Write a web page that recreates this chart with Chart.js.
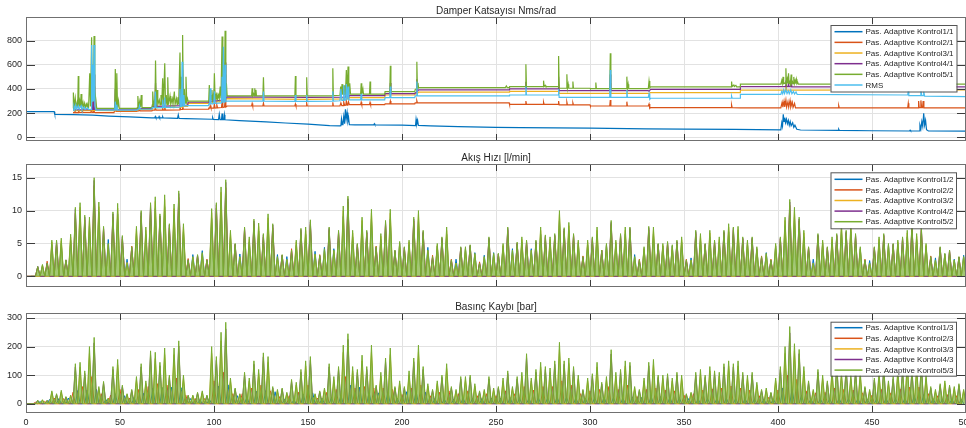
<!DOCTYPE html>
<html>
<head>
<meta charset="utf-8">
<script src="https://cdn.jsdelivr.net/npm/chart.js@4.4.1/dist/chart.umd.min.js"></script>
<style>
  html, body { margin: 0; padding: 0; background: #fff; overflow: hidden; }
  canvas { position: absolute; left: 0; }
</style>
</head>
<body>
<canvas id="damperChart" width="966" height="142" style="top:0px"></canvas>
<canvas id="flowChart" width="966" height="142" style="top:146px"></canvas>
<canvas id="pressChart" width="966" height="138" style="top:290px"></canvas>
<script>
// ---- axis ticks ----
const xTicks = [0, 50, 100, 150, 200, 250, 300, 350, 400, 450, 500];
const damperTicks = [0, 200, 400, 600, 800];
const flowTicks = [0, 5, 10, 15];
const pressTicks = [0, 100, 200, 300];

// ---- series names ----
const damperNames = ['Pas. Adaptive Kontrol1/1', 'Pas. Adaptive Kontrol2/1', 'Pas. Adaptive Kontrol3/1',
  'Pas. Adaptive Kontrol4/1', 'Pas. Adaptive Kontrol5/1', 'RMS'];
const flowNames = ['Pas. Adaptive Kontrol1/2', 'Pas. Adaptive Kontrol2/2', 'Pas. Adaptive Kontrol3/2',
  'Pas. Adaptive Kontrol4/2', 'Pas. Adaptive Kontrol5/2'];
const pressNames = ['Pas. Adaptive Kontrol1/3', 'Pas. Adaptive Kontrol2/3', 'Pas. Adaptive Kontrol3/3',
  'Pas. Adaptive Kontrol4/3', 'Pas. Adaptive Kontrol5/3'];

// ---- Damper Katsayisi: [x, y] points ----
const damper1 = [[0,212],[15,212],[15.3,190],[25,188],[35.5,183],[44,175],[55,168],[67,161],
  [68.5,161],[68.8,172],[69.1,161],[70.5,160],[70.8,171],[71.1,160],[72.4,160],[72.7,170],[73,160],
  [80.6,157],[81,186],[81.4,157],[85,155],[99,149],[99.3,162],[99.6,148],
  [102.4,146],[102.8,190],[103.2,146],[104,146],[104.3,196],[104.6,146],[105.2,146],[105.5,186],[105.8,145],
  [113.5,138],[127.7,127],[138,118],[150,108],[161.5,97],[167,95],
  [167.5,96],[167.8,150],[168.2,104],[168.6,122],[169,172],[169.4,112],[169.9,232],[170.3,150],[170.8,205],[171.2,132],[171.6,160],[172,104],
  [175,102],[185,103],[185.3,112],[185.6,103],[200,100],[207.2,97],[207.5,150],[207.9,112],[208.3,140],[208.7,98],
  [215,95],[230,88],[250,82],[263,80],[300,75],[330,70],[350,67],[377,65],[401.5,62],
  [402,120],[402.4,92],[402.8,190],[403.2,132],[403.6,162],[404,120],[404.5,150],[405,112],[405.5,140],[406,100],[406.5,130],[407,96],[407.8,120],[408.4,82],[409,100],[410,66],[412,60],
  [432,57],[432.3,66],[432.6,57],[450,54],[470,52],[470.3,58],[470.6,52],[475,52],[475.5,100],[476,70],[476.5,130],[477,90],[477.5,199],[478,100],[478.5,140],[479,62],[480,52],[500,50]];

const damper2 = [[25,204],[25.7,204],[26,215],[26.4,204],[27.7,204],[28,220],[28.4,205],[29.7,205],[30,212],[30.4,205],[34.5,205],[34.8,240],[35.2,206],[35.7,206],[36,238],[36.4,207],[37,204],
  [46.8,204],[47,214],[47.2,214],[47.5,230],[47.9,214],[59,214],[59.2,218],[60.1,218],[60.4,226],[60.8,218],[67,218],[67.2,224],[68.5,224],[68.8,245],[69.2,224],[72.4,224],[72.7,240],[73.1,224],[73.5,224],[73.8,248],[74.2,224],[81.6,226],[81.9,255],[82.3,230],[83,230],[83.3,258],[83.7,232],[86,232],
  [97,232],[97.2,242],[97.7,242],[98,262],[98.4,242],[99.9,242],[100.2,275],[100.6,242],[101.2,243],[101.5,268],[101.9,243],[104,246],[104.3,300],[104.7,246],[105.6,250],[105.9,309],[106.3,250],[107,259],
  [120,259],[120.3,280],[120.6,259],[126,259],[126.3,282],[126.6,259],[143,259],[143.3,276],[143.6,259],[149,259],[149.3,282],[149.6,259],[162.9,259],[163.2,290],[163.5,259],
  [167,260],[167.5,285],[168,262],[168.7,262],[169,292],[169.5,264],[170.1,266],[170.4,300],[170.8,266],[171.2,268],[171.5,295],[172,270],[178,270],[178.3,290],[178.6,270],[182.7,270],[183,288],[183.3,270],[190.8,270],[191,276],[193.5,276],[193.8,300],[194.1,276],[206.8,276],[207,285],[207.6,285],[207.9,302],[208.2,285],
  [257,285],[257.2,272],[265.6,272],[265.9,300],[266.2,272],[275,272],[275.3,290],[275.6,272],[283,272],[283.3,300],[283.6,268],[287.4,268],[287.7,290],[288,268],[290.6,268],[290.9,285],[291.2,268],[300,268],[300.2,259],[310.5,259],[310.8,309],[311.1,259],[319.3,259],[319.6,295],[319.9,259],[331,259],[331.4,275],[331.8,240],[332.2,246],
  [375,246],[375.3,268],[375.6,246],[380,243],[401.5,243],[402.2,290],[402.6,250],[403.2,300],[403.6,252],[404.2,309],[404.6,250],[405.3,295],[405.7,250],[406.4,305],[406.8,250],[407.6,290],[408,248],[408.8,280],[409.3,243],
  [432,243],[432.3,262],[432.6,243],[469,243],[469.3,282],[469.6,243],[474.5,243],[474.8,300],[475.1,245],[475.7,245],[476,305],[476.4,245],[476.9,245],[477.2,300],[477.6,243],[500,243]];

const damper3 = [[25,220],[34.6,220],[34.9,400],[35.3,222],[35.9,222],[36.2,420],[36.6,222],[47,220],[59,220],[59.2,230],[67,230],[67.2,246],[68.6,246],[68.9,380],[69.3,246],[83,250],[83.3,450],[83.7,255],[86,255],[86.2,280],
  [97,280],[97.2,290],[104,295],[104.3,500],[104.7,300],[105.6,305],[105.9,520],[106.3,310],[107,320],[150,314],[171,318],[171.3,380],[171.7,318],[172,328],[190.8,328],[191,350],[193.5,350],[193.8,400],[194.1,350],[206.8,350],[207,360],[207.6,362],[207.9,420],[208.2,365],[208.8,373],
  [257,373],[257.2,380],[283,380],[283.3,440],[283.6,364],[310.5,364],[310.8,450],[311.1,364],[331,364],[331.4,360],[332.2,370],[379.8,370],[380,390],[403.9,390],[404.2,430],[404.5,390],[500,392]];

const damper4 = [[25,228],[34.6,228],[34.9,500],[35.3,230],[35.9,230],[36.2,520],[36.6,230],[47.2,228],[47.5,400],[47.9,228],[59,228],[59.2,238],[67,238],[67.2,256],[68.6,256],[68.9,450],[69.3,256],[81.6,262],[81.9,500],[82.3,262],[83,264],[83.3,560],[83.7,265],[86,265],[86.2,290],
  [97,290],[97.2,300],[99.9,300],[100.2,400],[100.6,300],[104,308],[104.3,600],[104.7,310],[105.6,318],[105.9,620],[106.3,320],[107,334],[150,330],[170.1,332],[170.4,420],[170.8,334],[171,334],[171.3,440],[171.7,336],[172,345],[190.8,345],[191,362],[193.5,362],[193.8,450],[194.1,362],[206.8,362],[207,368],[207.6,370],[207.9,480],[208.2,380],[208.8,392],
  [257,392],[257.2,400],[265.6,400],[265.9,460],[266.2,400],[283,400],[283.3,500],[283.6,386],[310.5,386],[310.8,520],[311.1,386],[331,386],[331.4,380],[332.2,397],[379.8,397],[380,420],[403.9,420],[404.2,470],[404.5,420],[405.3,420],[405.6,450],[405.9,420],[406.7,420],[407,460],[407.3,418],[500,418]];

const damper5 = [[25,240],[25.2,370],[25.6,250],[26.2,323],[26.6,248],[27.2,290],[27.5,250],[27.8,508],[28.1,250],[28.6,300],[29,252],[29.3,359],[29.7,250],[30.3,290],[30.7,248],[31.2,282],[31.6,250],[32.2,275],[32.6,248],[32.9,268],[33.3,250],[33.9,530],[34.3,255],[34.9,828],[35.3,300],[35.6,600],[35.9,300],[36.2,839],[36.6,380],[37.2,309],[37.6,240],
  [47.2,240],[47.5,566],[47.9,250],[48.3,530],[48.7,245],[49.2,300],[49.6,240],
  [59,240],[59.2,245],[59.5,342],[59.9,250],[60.5,300],[60.9,250],[61.3,350],[61.7,245],
  [67,245],[67.2,268],[67.4,378],[67.8,268],[68.3,300],[68.6,268],[68.9,635],[69.3,270],[69.7,392],[70.1,268],[70.9,309],[71.3,268],[71.8,350],[72.2,270],[72.7,489],[73.1,270],[73.8,613],[74.2,272],[74.6,350],[75,270],[75.4,497],[75.8,270],[76.6,342],[77,272],[77.8,320],[78.2,272],[78.9,378],[79.3,272],[80,320],[80.4,272],[80.8,331],[81.2,274],[81.9,701],[82.3,276],[82.7,500],[83,280],[83.3,847],[83.7,280],[84.2,400],[84.6,282],[85.1,502],[85.5,295],[85.9,320],[86.2,300],
  [97,300],[97.2,308],[97.5,433],[97.9,310],[98.3,350],[98.6,312],[98.9,392],[99.3,310],[99.6,340],[99.9,312],[100.2,530],[100.6,315],[100.9,360],[101.2,316],[101.5,370],[101.9,318],[102.4,350],[102.8,320],[103.3,420],[103.7,322],[104.3,834],[104.7,330],[105.1,500],[105.5,335],[105.9,883],[106.3,340],[106.6,450],[107,342],
  [120,342],[120.3,405],[120.6,342],[121.1,360],[121.4,342],[121.7,405],[122,342],[122.3,392],[122.6,342],[126,342],[126.3,497],[126.6,342],[143,342],[143.3,508],[143.6,342],[149,342],[149.3,497],[149.6,342],[162.9,342],[163.2,571],[163.5,344],
  [167,348],[167.4,420],[167.8,350],[168.1,440],[168.5,352],[168.8,400],[169.2,352],[169.5,430],[169.9,354],[170.4,557],[170.8,355],[171.3,585],[171.7,355],[172.2,447],[172.6,358],
  [178,358],[178.3,447],[178.6,358],[179.2,400],[179.5,358],[182.7,358],[183,461],[183.3,358],[190.8,358],[191,378],[193.5,378],[193.8,593],[194.1,378],[206.8,378],[207,395],[207.6,400],[207.9,626],[208.2,405],[208.5,450],[208.8,411],
  [255,411],[255.5,425],[256,411],[257,411],[257.2,420],[265.6,420],[265.9,604],[266.2,420],[275,420],[275.3,469],[275.6,420],[276.2,430],[276.5,420],[283,420],[283.3,673],[283.6,406],[287.4,406],[287.7,522],[288,406],[288.4,440],[288.7,406],[290.6,406],[290.9,461],[291.2,406],
  [300,406],[300.2,402],[302.8,402],[303.1,453],[303.4,402],[310.5,402],[310.8,695],[311.1,402],[319.3,402],[319.6,502],[319.9,402],[320.3,440],[320.6,402],[331,402],[331.4,466],[331.8,410],[332.2,418],
  [375,418],[375.3,461],[375.6,420],[376.5,433],[376.8,420],[377.6,430],[378,418],[379.8,418],[380,440],
  [401.5,440],[402,470],[402.3,445],[402.7,500],[403,445],[403.5,450],[403.8,445],[404.2,571],[404.5,445],[404.9,480],[405.2,445],[405.6,530],[405.9,445],[406.3,470],[406.6,445],[407,520],[407.3,445],[407.7,460],[408,445],[408.4,500],[408.7,445],[409.1,470],[409.4,445],[409.8,480],[410.1,445],[410.5,455],[410.8,440],
  [432,440],[432.3,460],[432.6,440],[469,440],[469.3,480],[469.6,440],[475,440],[475.5,500],[476,440],[477.5,490],[478,440],[500,440]];

const damperRms = [[25,225],[25.5,255],[25.9,230],[26.5,268],[26.9,232],[27.8,260],[28.2,232],[29.3,262],[29.7,232],[31,250],[31.4,230],[32.8,245],[33.2,230],[34.6,230],[34.9,765],[35.3,300],[35.6,600],[35.9,300],[36.2,765],[36.6,260],[37.2,225],
  [47.2,225],[47.5,295],[47.9,226],[48.3,270],[48.7,225],[59,225],[59.2,232],[60,232],[60.4,262],[60.8,232],[67,232],[67.2,245],[68.5,245],[68.8,378],[69.2,245],[72.4,245],[72.7,310],[73.1,248],[73.5,248],[73.8,330],[74.2,248],[81.6,250],[81.9,400],[82.3,255],[82.7,255],[83,626],[83.4,258],[83.7,258],[84,350],[84.4,260],[86,262],
  [97,262],[97.2,275],[97.7,275],[98,405],[98.4,276],[99.9,278],[100.2,380],[100.6,280],[104,284],[104.3,500],[104.7,285],[105,750],[105.4,290],[105.6,292],[105.9,600],[106.3,295],[107,300],
  [126,300],[126.3,378],[126.6,300],[143,298],[143.3,350],[143.6,298],[149,297],[149.3,350],[149.6,297],[162.9,300],[163.2,380],[163.5,300],
  [167,302],[167.5,400],[168,305],[168.7,305],[169,430],[169.4,308],[170.1,308],[170.4,440],[170.8,310],[171,310],[171.3,420],[171.7,310],[178,310],[178.3,360],[178.6,310],[190.8,310],[191,328],[193.5,328],[193.8,420],[194.1,328],[206.8,328],[207,342],[207.6,342],[207.9,461],[208.2,342],
  [257,342],[257.2,350],[265.6,350],[265.9,420],[266.2,350],[283,350],[283.3,400],[283.6,331],[310.5,331],[310.8,557],[311.1,331],[319.3,331],[319.6,392],[319.9,331],[331,331],[331.4,360],[331.8,315],[332.2,323],
  [375,323],[375.3,340],[375.6,323],[379.8,323],[380,355],[401.5,355],[402,380],[402.5,360],[403,390],[403.5,362],[404.2,395],[404.8,362],[405.5,385],[406,360],[406.8,392],[407.4,360],[408.2,380],[408.8,358],[409.6,375],[410.2,355],
  [469,350],[469.3,386],[469.6,345],[475.7,345],[476,386],[476.5,345],[477.2,345],[477.5,380],[478,340],[500,337]];

// ---- Akis Hizi: spike peaks (Kontrol5 every 2.5 s, the others every 5 s) ----
const flowK5 = [
  0,0,1.5,1.8,2,5.5,5.5,5.8,2.5,6.4,
  10.5,11.2,9.3,9,15,11.3,7.6,5,9.8,11.1,
  6.2,2,4.5,7.6,10,7.5,11.2,12.1,9.5,12.4,
  8,11,13,8,2.5,3,3.3,3.6,2.5,10.3,
  11.2,13.6,14.7,7,5,3,7.5,6,8.7,8.1,
  6.5,9.5,8,3,3.3,2.6,4,5.5,7.3,7.5,
  8.6,3.4,3.2,4.2,7.5,4,7,10.7,12.2,7,
  5,9,7,10.2,4.5,6.5,8.5,10.2,4,5.3,
  4.5,5.5,9,10,7,4,3,5,6,7.5,
  2.5,2,4.5,4.5,4.8,3.5,2,3,6,3.5,
  3.5,5,7.5,4,5.2,6,5.5,4,5.5,7.5,
  6.3,6,6.5,10,7.4,8.2,6.5,5.5,3,5.5,
  6,7.5,4,5,8.5,5.5,6.5,7.5,7.5,3,
  2.5,4.5,7.6,7.5,5,5,5.3,4.8,5.5,6,
  2.5,2.5,7,6.5,5,7,5.5,6,7,8,
  7.5,7.6,6,5.5,6,4.5,3,3.5,2.5,5,
  6,9,11.7,10.5,9,7,4.5,2,6.5,5.5,
  4.5,6,6.5,8,7,8,6.5,4.5,2.5,2,
  4.5,6,6.5,5,5,5.5,6,7,8,6.5,
  7.5,5,3,2.5,4.5,3.5,4,2.5,3,3];

const flowK1 = [
  0,1.6,4.8,5,5.5, 9.6,7.7,9.8,5.6,9.5, 2.6,6.5,6.4,10.3,10.6, 9.4,6.8,3.3,3.9,8.8,
  11.6,6,3.4,5.2,6.9, 8.1,3.3,3,4.7,6.4, 3.8,4.4,4.2,9.1,6, 7.7,8.7,5.6,8.7,5,
  4.8,8.5,4.4,4.6,6.4, 2.6,4.2,3.6,3.2,3.6, 4.6,4.2,5.2,4.2,6.4, 5.2,8.5,7,5,4.8,
  6.4,4.8,5,6.4,3.3, 4.2,6.4,4.6,4.6,5.2, 2.8,5.6,6,5.2,6.8, 6.5,5,4.2,3.6,4.6,
  7.7,9,6,2.6,5, 5.2,6.8,6.8,4.2,2.4, 5.2,4.8,5,6,5.6, 4.6,2.8,3.4,2.6,3.2];

const flowK2 = [
  0,1.4,2.3,5,2.4, 9.6,8.6,13.8,7.2,9, 5.7,4.6,9.2,10.3,8.9, 7.4,12,2.7,3.1,2.6,
  10.4,13.5,4.8,7.1,8, 6,7.4,3.2,4.2,6.8, 7.9,3.3,7,6.6,11.3, 4.8,6.6,4.6,7.9,3.8,
  4.3,8.4,6.6,3.2,5.6, 2.6,4.3,4.6,2.2,5.6, 3.4,7,5,5.2,5.1, 5.9,6.1,6.9,6.2,3.1,
  5.6,4,7.9,6.1,7, 2.6,7.1,4.8,5,5.2, 2.6,6.5,4.8,5.2,6.6, 7,5.7,5.6,3.1,2.6,
  5.7,10.8,8.4,4.4,6.1, 4.3,6.1,6.6,6.1,2.6, 4.3,6.1,4.8,5.7,7.5, 7,3.1,4.3,3.8,2.9];

const flowK3 = [
  0,1.7,5.2,5.4,6, 10.5,8.5,10.6,4.8,10.4, 2.1,7.2,7,11.4,11.7, 10.3,7.5,2.9,3.4,9.7,
  12.8,6.6,2.9,5.6,7.6, 8.9,2.9,2.5,5.2,7, 3.3,4,3.8,10,6.6, 8.5,9.6,6.1,9.6,5,
  5.2,9.4,3.8,4.7,7, 2,4.2,3.3,2.9,3.3, 4.7,3.8,5.6,3.8,7, 5.6,9.4,7.7,5.2,5.2,
  7,4.7,5.2,7,2.9, 4.2,7,4.7,4.5,5.6, 2.4,6.1,6.6,5.6,7.5, 7.1,5.2,4.2,3.3,4.7,
  8.5,9.9,6.6,2,5.2, 5.6,7.5,7.5,4.2,2, 5.6,4.7,5.2,6.6,6.1, 4.7,2.4,3.3,2.4,2.9];

const flowK4 = [
  0,1.5,2,5.3,2.5, 10.2,9,14.6,7.4,9.5, 6,4.4,9.7,10.9,9.2, 7.8,12.6,2.5,3.2,2.5,
  10.9,14.3,4.9,7.3,8.4, 6.3,7.8,3.2,3.9,7.1, 8.3,3.1,7.3,6.8,11.8, 4.9,6.8,4.4,8.2,3.9,
  4.4,8.7,6.8,2.9,5.8, 2.4,4.4,4.7,2,5.8, 3.4,7.3,5,5.3,5.3, 6.1,6.3,7.2,6.3,2.9,
  5.8,3.9,8.2,6.3,7.3, 2.4,7.4,4.9,5.1,5.3, 2.4,6.8,4.9,5.3,6.8, 7.3,5.8,5.8,2.9,2.4,
  5.8,11.3,8.7,4.4,6.3, 4.4,6.3,6.8,6.3,2.4, 4.4,6.3,4.9,5.8,7.8, 7.3,2.9,4.4,3.9,2.9];

// ---- Basinc Kaybi: spike peaks ----
const pressK5 = [
  0,0,12,14,12,45,35,47,25,30,
  140,145,115,200,232,60,78,20,130,155,
  65,35,50,95,140,80,185,180,145,195,
  100,195,220,100,30,30,40,45,30,200,
  165,250,285,90,55,35,110,90,150,120,
  178,165,60,50,55,40,85,75,120,150,
  165,35,45,55,140,95,130,205,245,130,
  120,170,130,205,65,110,160,195,60,80,
  60,115,160,205,130,70,50,80,100,140,
  60,50,95,95,100,70,45,50,95,55,
  60,90,115,60,95,110,175,90,120,145,
  130,125,150,215,150,160,130,100,50,90,
  105,145,75,95,189,110,120,150,145,60,
  50,90,145,155,100,100,105,90,110,100,
  35,40,110,120,100,130,115,110,140,150,
  140,150,110,100,110,75,50,55,40,90,
  130,200,270,210,190,130,80,50,120,100,
  80,120,140,110,130,100,120,110,60,50,
  90,110,130,80,95,120,120,150,120,130,
  140,100,60,50,70,80,65,60,70,50];

const pressK1 = [
  0,8,15,18,20,46,48,50,15,35,
  28,22,36,55,57,58,56,18,14,16,
  62,66,28,24,44,46,42,15,14,34,
  38,20,22,30,65,58,40,38,42,20,
  42,44,40,18,17,16,20,19,18,20,
  20,22,21,19,22,21,24,23,20,20,
  22,23,22,20,24,22,26,25,23,22,
  18,17,19,18,20,19,18,17,16,17,
  55,52,30,17,18,18,19,18,18,17,
  18,19,18,19,28,32,18,17,16,16];

const pressK2 = [
  0,5,8,20,18,40,60,95,35,30,
  50,20,50,60,70,65,90,30,18,18,
  80,110,35,35,55,65,45,25,28,40,
  65,20,40,50,95,55,60,55,55,50,
  32,55,65,28,40,45,35,45,28,35,
  28,45,35,60,48,60,60,80,65,35,
  45,50,60,50,65,25,50,55,48,45,
  30,35,48,52,55,62,55,48,28,22,
  48,100,85,45,38,40,55,50,48,38,
  30,50,38,52,58,58,35,28,32,28];

const pressK3 = [
  0,12,40,41,27, 128,176,53,19,136, 32,84,71,158,172, 172,88,28,40,176,
  220,80,32,80,106, 145,45,36,66,132, 32,49,84,180,115, 150,180,97,172,70,
  101,180,62,71,123, 45,84,62,45,49, 80,54,97,80,128, 110,189,141,88,80,
  128,84,97,132,54, 80,136,88,80,88, 36,106,115,97,132, 132,88,66,49,80,
  176,185,115,45,88, 106,97,88,97,45, 97,71,106,132,115, 88,45,71,54,45];

const pressK4 = [
  0,11,11,32,23, 129,106,213,72,120, 60,46,129,170,133, 92,202,28,37,28,
  152,262,51,101,138, 164,55,51,78,110, 152,41,129,120,225, 110,120,60,147,55,
  55,147,120,46,92, 55,87,92,41,87, 55,106,87,161,110, 120,138,138,120,46,
  97,69,174,110,133, 46,133,92,97,101, 32,101,92,106,129, 129,101,101,46,37,
  120,248,175,74,110, 74,129,120,110,55, 83,120,87,110,110, 129,55,64,60,64];

// ---- styling ----
const FONT = "'Liberation Sans', Arial, sans-serif";
const COLORS = ['#0072BD', '#D95319', '#EDB120', '#7E2F8E', '#77AC30', '#4DBEEE'];
const GREEN_FILL = 'rgba(119, 172, 48, 0.68)';
const TEXT = '#262626';
const GRID = '#e2e2e2';

const pts = arr => arr.map(([x, y]) => ({ x, y }));

// narrow triangular spikes from the zero level up to each peak
function spikes(peaks, step, offset) {
  const out = [];
  peaks.forEach((v, i) => {
    const xp = i * step + offset;
    out.push({ x: xp - 1.25, y: 0 }, { x: xp, y: v }, { x: xp + 1.25, y: 0 });
  });
  return out;
}

function line(label, color, data, order, width) {
  return { label, data, borderColor: color, borderWidth: width, pointRadius: 0,
    tension: 0, fill: false, order };
}

const framePlugin = {
  id: 'frame',
  afterDatasetsDraw(chart, args, o) {
    const { ctx, chartArea: a, scales } = chart;
    ctx.save();
    ctx.strokeStyle = '#3c3c3c';
    ctx.lineWidth = 1;
    ctx.beginPath();
    xTicks.forEach(v => {
      const px = Math.round(scales.x.getPixelForValue(v)) + 0.5;
      ctx.moveTo(px, a.bottom); ctx.lineTo(px, a.bottom - 7);
      ctx.moveTo(px, a.top); ctx.lineTo(px, a.top + 7);
    });
    o.yTicks.forEach(v => {
      const py = Math.round(scales.y.getPixelForValue(v)) + 0.5;
      ctx.moveTo(a.left, py); ctx.lineTo(a.left + 9, py);
      ctx.moveTo(a.right, py); ctx.lineTo(a.right - 9, py);
    });
    ctx.stroke();
    ctx.strokeStyle = '#707070';
    ctx.strokeRect(a.left + 0.5, a.top + 0.5, a.right - a.left - 1, a.bottom - a.top - 1);
    ctx.restore();
  },
  afterDraw(chart, args, o) {
    const { ctx, chartArea: a } = chart;
    ctx.save();
    ctx.fillStyle = TEXT;
    ctx.font = '10px ' + FONT;
    ctx.textAlign = 'center';
    ctx.textBaseline = 'middle';
    ctx.fillText(o.title, (a.left + a.right) / 2, a.top - 6);

    const L = o.legend;
    ctx.fillStyle = '#fff';
    ctx.fillRect(L.x, L.y, L.w, L.h);
    ctx.strokeStyle = '#555';
    ctx.strokeRect(L.x + 0.5, L.y + 0.5, L.w, L.h);
    ctx.font = '8px ' + FONT;
    ctx.textAlign = 'left';
    o.names.forEach((name, i) => {
      const y = L.y + L.first + i * L.step;
      ctx.strokeStyle = COLORS[i];
      ctx.lineWidth = 1.5;
      ctx.beginPath();
      ctx.moveTo(L.x + 4, y); ctx.lineTo(L.x + 32, y);
      ctx.stroke();
      ctx.fillStyle = TEXT;
      ctx.fillText(name, L.x + 35, y + 0.5);
    });
    ctx.restore();
  }
};

function makeChart(id, datasets, yMin, yMax, yTicks, showX, pad, title, names, legend) {
  return new Chart(document.getElementById(id), {
    type: 'line',
    data: { datasets },
    plugins: [framePlugin],
    options: {
      responsive: false,
      animation: false,
      devicePixelRatio: 1,
      events: [],
      layout: { padding: pad },
      plugins: {
        legend: { display: false },
        tooltip: { enabled: false },
        frame: { yTicks, title, names, legend },
      },
      scales: {
        x: {
          type: 'linear', min: 0, max: 500,
          afterBuildTicks: s => { s.ticks = xTicks.map(v => ({ value: v })); },
          afterFit: s => { s.height = showX ? 15 : 0; s.paddingLeft = 0; s.paddingRight = 0; },
          ticks: { display: showX, padding: 4, autoSkip: false, maxRotation: 0, color: TEXT,
            font: { family: FONT, size: 9 } },
          grid: { color: GRID, drawTicks: false },
          border: { display: false },
        },
        y: {
          type: 'linear', min: yMin, max: yMax,
          afterBuildTicks: s => { s.ticks = yTicks.map(v => ({ value: v })); },
          afterFit: s => { s.width = 26; s.paddingTop = 0; s.paddingBottom = 0; },
          ticks: { padding: 4, color: TEXT, font: { family: FONT, size: 9 } },
          grid: { color: GRID, drawTicks: false },
          border: { display: false },
        },
      },
    },
  });
}

// the dense Kontrol5 spike trains read as a solid mass in the reference
function denseGreen(label, data) {
  const d = line(label, COLORS[4], data, 0, 1);
  d.fill = 'origin';
  d.backgroundColor = GREEN_FILL;
  return d;
}

// plot 1: RMS on top, then Kontrol5 ... Kontrol1
const damperSets = [damper1, damper2, damper3, damper4, damper5, damperRms]
  .map((d, i) => line(damperNames[i], COLORS[i], pts(d), 5 - i, 1.2));
makeChart('damperChart', damperSets, -31, 996, damperTicks, false,
  { top: 17, bottom: 1, left: 0, right: 0 }, 'Damper Katsayısı Nms/rad', damperNames,
  { x: 830.5, y: 25, w: 126, h: 66.5, first: 6.7, step: 10.66 });

// plot 2: Kontrol5 on top
const flowOffsets = [3.75, 1.25, 3.75, 1.25];
const flowSets = [flowK1, flowK2, flowK3, flowK4]
  .map((d, i) => line(flowNames[i], COLORS[i], spikes(d, 5, flowOffsets[i]), 4 - i, 1));
flowSets.push(denseGreen(flowNames[4], spikes(flowK5, 2.5, 1.25)));
makeChart('flowChart', flowSets, -1.63, 17.09, flowTicks, false,
  { top: 18, bottom: 1, left: 0, right: 0 }, 'Akış Hızı [l/min]', flowNames,
  { x: 830.5, y: 26.3, w: 125.5, h: 56, first: 7, step: 10.6 });

// plot 3
const pressOffsets = [2.5, 0, 3.75, 1.25];
const pressSets = [pressK1, pressK2, pressK3, pressK4]
  .map((d, i) => line(pressNames[i], COLORS[i], spikes(d, 5, pressOffsets[i]), 4 - i, 1));
pressSets.push(denseGreen(pressNames[4], spikes(pressK5, 2.5, 1.25)));
makeChart('pressChart', pressSets, -32.5, 317.5, pressTicks, true,
  { top: 23, bottom: 0, left: 0, right: 0 }, 'Basınç Kaybı [bar]', pressNames,
  { x: 830.5, y: 31.7, w: 125.5, h: 54, first: 6, step: 10.6 });
</script>
</body>
</html>
